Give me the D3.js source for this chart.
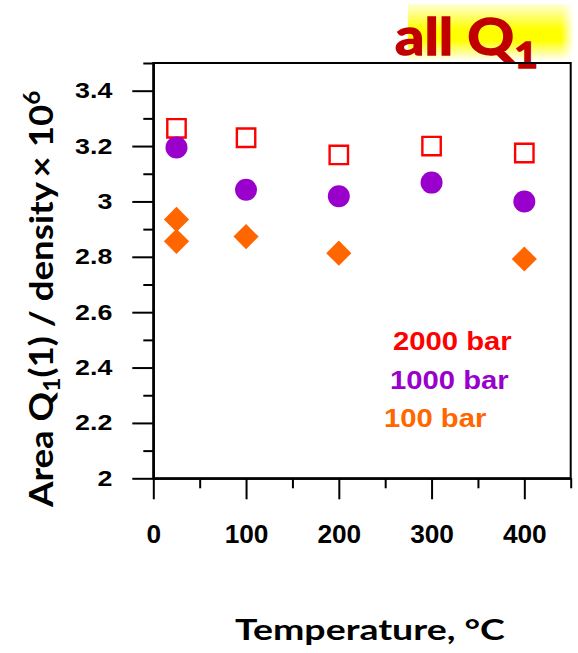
<!DOCTYPE html>
<html>
<head>
<meta charset="utf-8">
<script src="https://cdn.jsdelivr.net/npm/d3@7"></script>
<style>
  body { margin: 0; background: #fff; }
  svg { display: block; }
</style>
</head>
<body>
<svg id="chart" width="578" height="653"></svg>
<script>
// Peak area of Q1(1) per unit density (×10^6) versus temperature, three pressures
const temps2000 = [25, 100, 200, 300, 400];
const area2000  = [3.264, 3.230, 3.168, 3.200, 3.175];
const temps1000 = [25, 100, 200, 300, 400];
const area1000  = [3.195, 3.042, 3.019, 3.068, 3.000];
const temps100  = [25, 25, 100, 200, 400];
const area100   = [2.935, 2.856, 2.873, 2.813, 2.792];

const xMajorTicks = [0, 100, 200, 300, 400];
const xMinorTicks = [50, 150, 250, 350, 450];
const yMajorTicks = [2, 2.2, 2.4, 2.6, 2.8, 3, 3.2, 3.4];
const yMinorTicks = [2.1, 2.3, 2.5, 2.7, 2.9, 3.1, 3.3, 3.5];
const legendLabels = ["2000 bar", "1000 bar", "100 bar"];
const seriesColors = ["#ff0000", "#9900cc", "#ff6600"];

const svg = d3.select("#chart");
const plotL = 153.3, plotR = 570.7, plotT = 63, plotB = 478.3;

const x = d3.scaleLinear().domain([0, 450]).range([plotL, plotR]);
const y = d3.scaleLinear().domain([2, 3.5]).range([plotB, plotT]);

const defs = svg.append("defs");

// horizontally stretch a text element about a given anchor x
function stretch(sel, sx, ax, base) {
  sel.attr("transform", (base || "") + ` translate(${ax},0) scale(${sx},1) translate(${-ax},0)`);
}
function fitWidth(sel, target, ax, base) {
  const w = sel.node().getBBox().width;
  stretch(sel, target / w, ax, base);
}

// ---- title with highlighter band ----
const hg = defs.append("linearGradient").attr("id", "hlV")
  .attr("x1", 0).attr("y1", 0).attr("x2", 0).attr("y2", 1);
hg.append("stop").attr("offset", "0").attr("stop-color", "#ffff00").attr("stop-opacity", 0.15);
hg.append("stop").attr("offset", "0.45").attr("stop-color", "#ffff00").attr("stop-opacity", 1);
hg.append("stop").attr("offset", "0.65").attr("stop-color", "#ffff00").attr("stop-opacity", 1);
hg.append("stop").attr("offset", "1").attr("stop-color", "#ffff00").attr("stop-opacity", 0.05);
const mg = defs.append("linearGradient").attr("id", "hlH")
  .attr("x1", 0).attr("y1", 0).attr("x2", 1).attr("y2", 0);
mg.append("stop").attr("offset", "0").attr("stop-color", "#fff");
mg.append("stop").attr("offset", "0.92").attr("stop-color", "#fff");
mg.append("stop").attr("offset", "1").attr("stop-color", "#fff").attr("stop-opacity", 0);
defs.append("mask").attr("id", "hlMask")
  .attr("maskContentUnits", "objectBoundingBox")
  .append("rect").attr("width", 1).attr("height", 1).attr("fill", "url(#hlH)");

svg.append("rect")
  .attr("x", 408).attr("y", 4).attr("width", 166).attr("height", 56)
  .attr("fill", "url(#hlV)").attr("mask", "url(#hlMask)");

const title = svg.append("text")
  .attr("x", 395).attr("y", 55)
  .attr("font-family", "Lato, 'Open Sans', sans-serif")
  .attr("font-weight", 700).attr("font-size", 51)
  .attr("fill", "#c00000").attr("stroke", "#c00000").attr("stroke-width", 1.4);
title.append("tspan").text("all Q");
title.append("tspan").attr("font-size", 36).attr("dy", 13).text("1");
fitWidth(title, 143, 395);

// ---- frame ----
svg.append("rect")
  .attr("x", plotL).attr("y", plotT)
  .attr("width", plotR - plotL).attr("height", plotB - plotT)
  .attr("fill", "none").attr("stroke", "#000").attr("stroke-width", 2);

// ---- axes ----
const tickFont = "'Liberation Sans', Arial, sans-serif";

const yAxis = svg.append("g").attr("transform", `translate(${plotL},0)`)
  .call(d3.axisLeft(y).tickValues(yMajorTicks).tickSize(21).tickSizeOuter(0)
    .tickPadding(20).tickFormat(d3.format("~g")));
svg.append("g").attr("transform", `translate(${plotL},0)`)
  .call(d3.axisLeft(y).tickValues(yMinorTicks).tickSize(10).tickSizeOuter(0).tickFormat(""));

const xAxis = svg.append("g").attr("transform", `translate(0,${plotB})`)
  .call(d3.axisBottom(x).tickValues(xMajorTicks).tickSize(21).tickSizeOuter(0)
    .tickPadding(25.7).tickFormat(d3.format("d")));
svg.append("g").attr("transform", `translate(0,${plotB})`)
  .call(d3.axisBottom(x).tickValues(xMinorTicks).tickSize(10).tickSizeOuter(0).tickFormat(""));

svg.selectAll(".domain").attr("stroke", "#000").attr("stroke-width", 2);
svg.selectAll(".tick line").attr("stroke", "#000").attr("stroke-width", 2);

yAxis.selectAll("text")
  .attr("font-family", tickFont).attr("font-weight", 700).attr("font-size", 22)
  .attr("fill", "#000")
  .each(function () { stretch(d3.select(this), 1.22, -41); });
xAxis.selectAll("text")
  .attr("font-family", tickFont).attr("font-weight", 700).attr("font-size", 25)
  .attr("fill", "#000")
  .each(function () { stretch(d3.select(this), 1.05, 0); });

// ---- axis titles ----
const titleFont = "Lato, 'Open Sans', sans-serif";

const xTitle = svg.append("text")
  .attr("x", 235).attr("y", 640)
  .attr("font-family", titleFont).attr("font-weight", 700).attr("font-size", 29)
  .attr("fill", "#000").text("Temperature, °C");
fitWidth(xTitle, 270, 235);

const yTitleG = svg.append("g").attr("transform", "translate(53,507) rotate(-90)");
const yTitle = yTitleG.append("text")
  .attr("x", 0).attr("y", 0)
  .attr("font-family", titleFont).attr("font-weight", 700).attr("font-size", 33)
  .attr("fill", "#000");
yTitle.append("tspan").text("Area Q");
yTitle.append("tspan").attr("font-size", 22).attr("dy", 7).text("1");
yTitle.append("tspan").attr("dy", -7).text("(1) / density\u2009× 10");
yTitle.append("tspan").attr("font-size", 22).attr("dy", -13).text("6");
fitWidth(yTitle, 418, 0);

// ---- markers ----
const s2000 = temps2000.map((t, i) => ({ t, v: area2000[i] }));
const s1000 = temps1000.map((t, i) => ({ t, v: area1000[i] }));
const s100  = temps100.map((t, i) => ({ t, v: area100[i] }));

svg.append("g").selectAll("path").data(s2000).join("path")
  .attr("d", d3.symbol(d3.symbolSquare, 18.4 * 18.4))
  .attr("transform", d => `translate(${x(d.t)},${y(d.v)})`)
  .attr("fill", "none").attr("stroke", seriesColors[0]).attr("stroke-width", 2.4);

svg.append("g").selectAll("circle").data(s1000).join("circle")
  .attr("cx", d => x(d.t)).attr("cy", d => y(d.v)).attr("r", 11)
  .attr("fill", seriesColors[1]);

svg.append("g").selectAll("path").data(s100).join("path")
  .attr("d", d3.symbol(d3.symbolSquare, 17.8 * 17.8))
  .attr("transform", d => `translate(${x(d.t)},${y(d.v)}) rotate(45)`)
  .attr("fill", seriesColors[2]);

// ---- legend text ----
const legendPos = [[393, 350], [390, 389], [384, 427]];
legendLabels.forEach((lab, i) => {
  const t = svg.append("text")
    .attr("x", legendPos[i][0]).attr("y", legendPos[i][1])
    .attr("font-family", tickFont).attr("font-weight", 700).attr("font-size", 25)
    .attr("fill", seriesColors[i]).text(lab);
  stretch(t, 1.17, legendPos[i][0]);
});
</script>
</body>
</html>
